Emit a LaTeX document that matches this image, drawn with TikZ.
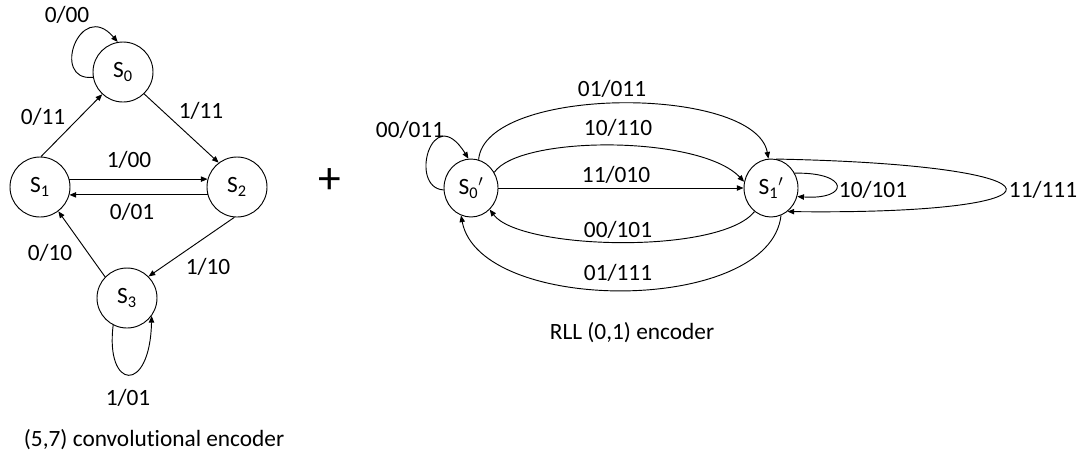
\documentclass[tikz,border=0pt]{standalone}
\usepackage{fontspec}
\setmainfont[Ligatures=NoCommon]{Carlito}
\usetikzlibrary{arrows.meta,shapes.geometric}

\begin{document}
\begin{tikzpicture}[x=0.75pt,y=-0.75pt,line width=0.7pt,
        >={Triangle[length=5pt,width=4pt]},
        every node/.style={font=\fontsize{17.5}{21}\selectfont},
        state/.style={draw,circle,minimum size=45pt,inner sep=0pt},
        rllstate/.style={draw,ellipse,minimum width=40.5pt,minimum height=43.5pt,inner sep=0pt}]
        \useasboundingbox (0,0) rectangle (1087,458);
        % (5,7) convolutional encoder
        \node[state] (s0) at (123,72) {S\textsubscript{0}};
        \node[state] (s1) at (40,187) {S\textsubscript{1}};
        \node[state] (s2) at (237,187) {S\textsubscript{2}};
        \node[state] (s3) at (127,298) {S\textsubscript{3}};
        \draw[->] (s0.190) .. controls (50,82) and (80,-2) .. (s0.100);
        \draw[->] (s1.88) -- (s0.227);
        \draw[->] (s0.314) -- (s2.127);
        \draw[->] (s1.15) -- (s2.165);
        \draw[->] (s2.195) -- (s1.345);
        \draw[->] (s2.265) -- (s3.45);
        \draw[->] (s3.136) -- (s1.307);
        \draw[->] (s3.243) .. controls (105,390) and (150,395) .. (s3.324);
        \node (l00) at (67,15) {0/00};
        \node (l11a) at (43,117) {0/11};
        \node (l11b) at (201,111) {1/11};
        \node (l100) at (129,160) {1/00};
        \node (l001) at (132,212) {0/01};
        \node (l010) at (50,253) {0/10};
        \node (l110) at (208,267) {1/10};
        \node (l101) at (128,398) {1/01};
        \node[anchor=west] (conv) at (19,440) {(5,7) convolutional encoder};
        \node[font=\fontsize{34}{34}\selectfont] (plus) at (330,181) {+};
        % RLL (0,1) encoder
        \node[rllstate] (r0) at (471,188) {S\textsubscript{0}$^{\prime}$};
        \node[rllstate] (r1) at (771,188) {S\textsubscript{1}$^{\prime}$};
        \draw[->] (r0.184) .. controls (408,188) and (432,100) .. (r0.95);
        \draw[->] (r0.75) .. controls (485,85) and (755,85) .. (r1.95);
        \draw[->] (r0.34) .. controls (520,135) and (700,135) .. (r1.167);
        \draw[->] (r0.east) -- (r1.west);
        \draw[->] (r1.235) .. controls (720,255) and (520,250) .. (r0.-49);
        \draw[->] (r1.-70) .. controls (770,315) and (480,315) .. (r0.-110);
        \draw[->] (r1.32) .. controls (850,172) and (850,200) .. (r1.-18);
        \draw[->] (r1.80) .. controls (1080,165) and (1080,215) .. (r1.-55);
        \node (r011a) at (410,130) {00/011};
        \node (r011b) at (612,89) {01/011};
        \node (r110) at (618,128) {10/110};
        \node (r010) at (616,175) {11/010};
        \node (r101a) at (618,230) {00/101};
        \node (r111a) at (618,273) {01/111};
        \node (r101b) at (873,190) {10/101};
        \node (r111b) at (1043,190) {11/111};
        \node (rll) at (632,333) {RLL (0,1) encoder};
\end{tikzpicture}
\end{document}
